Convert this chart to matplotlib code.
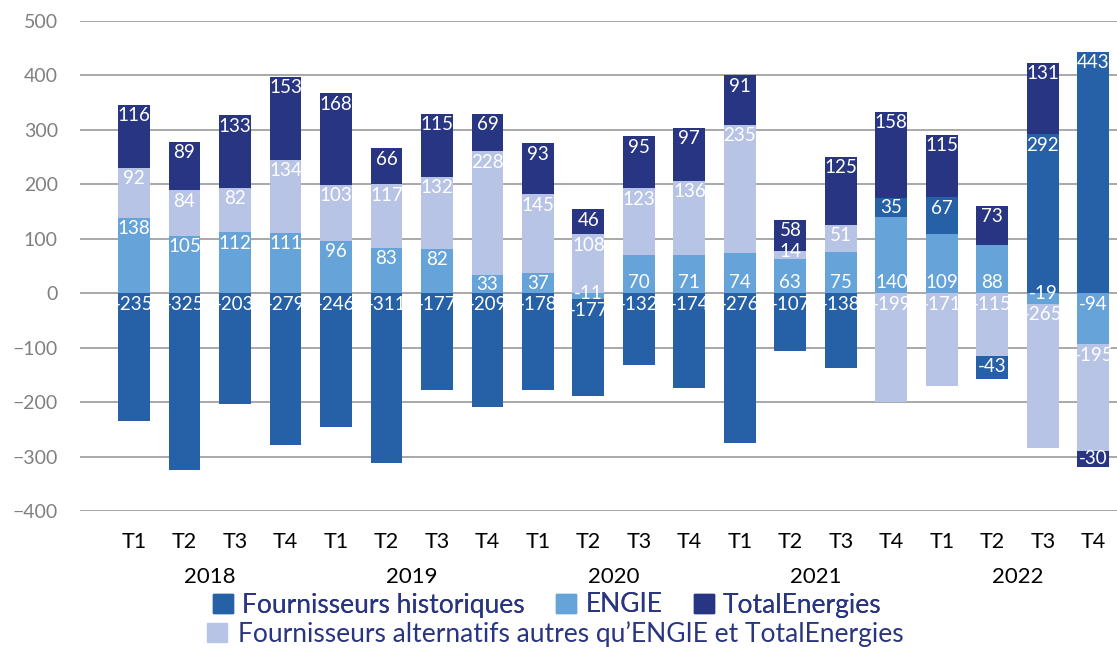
import matplotlib

matplotlib.use("Agg")
import matplotlib.pyplot as plt
import numpy as np
from matplotlib.patches import Patch

years = ["2018", "2019", "2020", "2021", "2022"]
quarters = ["T1", "T2", "T3", "T4"]

# stacking order as in the source: ENGIE, alternatifs, historiques, TotalEnergies
engie = [138, 105, 112, 111, 96, 83, 82, 33, 37, -11,
         70, 71, 74, 63, 75, 140, 109, 88, -19, -94]
alternatifs = [92, 84, 82, 134, 103, 117, 132, 228, 145, 108,
               123, 136, 235, 14, 51, -199, -171, -115, -265, -195]
historiques = [-235, -325, -203, -279, -246, -311, -177, -209, -178, -177,
               -132, -174, -276, -107, -138, 35, 67, -43, 292, 443]
totalenergies = [116, 89, 133, 153, 168, 66, 115, 69, 93, 46,
                 95, 97, 91, 58, 125, 158, 115, 73, 131, -30]

# from 2019 T4 on, the ENGIE labels sit at the foot of the segment
ENGIE_LOW_FROM = 7

C_HIST = "#2660a6"
C_ENGIE = "#66a3d9"
C_TE = "#283583"
C_ALT = "#b8c4e6"
NAVY = "#2a3580"

plt.rcParams["font.family"] = ["Lato", "DejaVu Sans"]

fig = plt.figure(figsize=(11.17, 6.48), dpi=100)
ax = fig.add_axes([0.0716, 0.2114, 0.9284, 0.7562])

x = np.arange(len(historiques))
name_alt = "Fournisseurs alternatifs autres qu\u2019ENGIE et TotalEnergies"
series = [
    ("ENGIE", engie, C_ENGIE),
    (name_alt, alternatifs, C_ALT),
    ("Fournisseurs historiques", historiques, C_HIST),
    ("TotalEnergies", totalenergies, C_TE),
]

pos_base = np.zeros(len(x))
neg_base = np.zeros(len(x))
for name, vals, color in series:
    v = np.array(vals, dtype=float)
    bottom = np.where(v >= 0, pos_base, neg_base)
    ax.bar(x, v, 0.63, bottom=bottom, color=color, zorder=3)
    for xi, vi, bi in zip(x, v, bottom):
        top = bi + vi if vi >= 0 else bi
        if abs(vi) < 20:
            # tiny segment: label straddles its upper edge
            ylab = top
        elif name == "ENGIE" and xi >= ENGIE_LOW_FROM and vi > 0:
            ylab = bi + min(19, vi / 2)
        else:
            # label sits near the upper end of each segment
            ylab = top - min(20, abs(vi) / 2)
        ax.text(xi, ylab, f"{int(vi)}", ha="center", va="center",
                color="white", fontsize=13.5, zorder=4)
    pos_base += np.where(v >= 0, v, 0)
    neg_base += np.where(v < 0, v, 0)

ax.set_ylim(-400, 500)
ax.set_xlim(-1.07, 19.47)
ax.set_yticks(range(-400, 501, 100))
ax.tick_params(axis="y", length=0, pad=16, labelcolor="#808080", labelsize=14)
ax.set_xticks(x, quarters * len(years))
ax.tick_params(axis="x", length=0, pad=15, labelcolor="black", labelsize=15.5)
ax.yaxis.grid(True, color="#a8a8a8", lw=1.4, zorder=0)
for s in ax.spines.values():
    s.set_visible(False)

for i, yr in enumerate(years):
    ax.text(4 * i + 1.5, -0.1347, yr, transform=ax.get_xaxis_transform(),
            ha="center", va="center", fontsize=16, color="black")

leg_font = {"family": ["Lato", "DejaVu Sans"], "weight": "normal", "size": 19}
h = {name: Patch(color=color) for name, _, color in series}
leg1 = fig.legend(
    [h["Fournisseurs historiques"], h["ENGIE"], h["TotalEnergies"]],
    ["Fournisseurs historiques", "ENGIE", "TotalEnergies"],
    ncol=3, loc="center", bbox_to_anchor=(0.49, 1 - 605 / 648), frameon=False,
    prop=leg_font, labelcolor=NAVY, handlelength=0.75, handleheight=0.75,
    handletextpad=0.35, columnspacing=1.2, borderpad=0, borderaxespad=0,
)
fig.legend(
    [h[name_alt]], [name_alt],
    loc="center", bbox_to_anchor=(0.497, 1 - 634 / 648), frameon=False,
    prop=leg_font, labelcolor=NAVY, handlelength=0.75, handleheight=0.75,
    handletextpad=0.4, borderpad=0, borderaxespad=0,
)
fig.add_artist(leg1)

fig.savefig("out.png", dpi=100)
